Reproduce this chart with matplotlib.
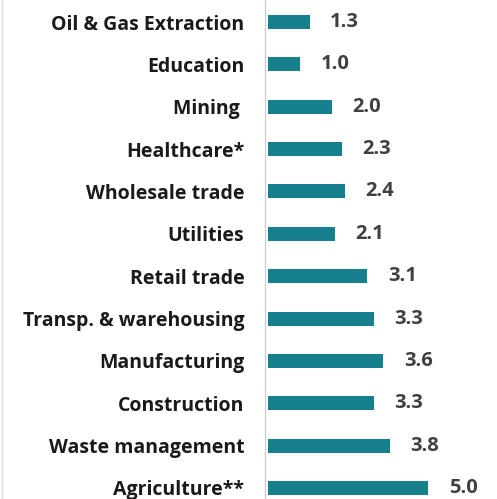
import matplotlib
matplotlib.use("Agg")
import matplotlib.pyplot as plt
from matplotlib.lines import Line2D

categories = ["Oil & Gas Extraction", "Education", "Mining ", "Healthcare*",
              "Wholesale trade", "Utilities", "Retail trade",
              "Transp. & warehousing", "Manufacturing", "Construction",
              "Waste management", "Agriculture**"]
values = [1.3, 1.0, 2.0, 2.3, 2.4, 2.1, 3.1, 3.3, 3.6, 3.3, 3.8, 5.0]
value_labels = ["1.3", "1.0", "2.0", "2.3", "2.4", "2.1", "3.1", "3.3", "3.6", "3.3", "3.8", "5.0"]

W, H = 497, 499
fig = plt.figure(figsize=(W / 100, H / 100), dpi=100)
fig.patch.set_facecolor("white")
ax = fig.add_axes([268 / W, 0, 1 - 268 / W, 1])

ypos = list(range(len(categories)))
ax.barh(ypos, values, height=0.33, color="#17808f", zorder=2)
ax.set_xlim(0, 7.15)
ax.set_ylim(11.26, -0.52)

for s in ["top", "right", "bottom"]:
    ax.spines[s].set_visible(False)
ax.spines["left"].set_color("#d0d0d0")
ax.spines["left"].set_linewidth(1.0)
ax.spines["left"].set_position(("outward", 2))
ax.set_xticks([])
ax.set_yticks(ypos)
ax.set_yticklabels(categories, fontsize=14, fontweight="bold",
                   color="#1a1a1a", fontfamily="Open Sans")
ax.tick_params(axis="y", length=0, pad=15)

for y, v, lab in zip(ypos, values, value_labels):
    ax.text(v + 0.64, y, lab, va="center", ha="left", fontsize=14.5,
            fontweight="bold", color="#404040", fontfamily="Open Sans")

fig.add_artist(Line2D([2 / W, 2 / W], [0, 1], color="#e0e0e0", lw=1))
fig.savefig("out.png", dpi=100)
